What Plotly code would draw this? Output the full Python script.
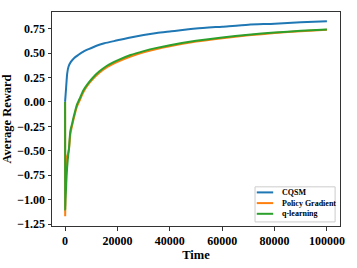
import plotly.graph_objects as go

time_cqsm = [0, 400, 800, 1300, 2200, 3500, 5000, 7000, 9000, 12000, 15000, 20000, 25000, 30000, 35000, 40000, 50000, 60000, 70000, 80000, 90000, 100000]
cqsm = [0.0, 0.15, 0.29, 0.36, 0.41, 0.45, 0.48, 0.515, 0.54, 0.575, 0.60, 0.63, 0.66, 0.685, 0.705, 0.72, 0.75, 0.77, 0.79, 0.80, 0.815, 0.825]

time_pg = [0, 30, 200, 500, 900, 1500, 2000, 2700, 3500, 4500, 5500, 7000, 8500, 10500, 13000, 16000, 20000, 25000, 30000, 35000, 40000, 50000, 60000, 70000, 80000, 90000, 100000]
pg = [0.0, -1.17, -0.85, -0.58, -0.55, -0.48, -0.33, -0.24, -0.15, -0.05, 0.01, 0.10, 0.165, 0.23, 0.295, 0.355, 0.41, 0.465, 0.508, 0.542, 0.57, 0.617, 0.652, 0.681, 0.705, 0.724, 0.738]

time_ql = [0, 50, 150, 300, 600, 1000, 1500, 2000, 2700, 3500, 4500, 5500, 7000, 8500, 10500, 13000, 16000, 20000, 25000, 30000, 35000, 40000, 50000, 60000, 70000, 80000, 90000, 100000]
ql = [0.0, -1.10, -1.0, -0.92, -0.75, -0.60, -0.47, -0.30, -0.22, -0.13, -0.03, 0.03, 0.12, 0.18, 0.245, 0.31, 0.37, 0.425, 0.48, 0.52, 0.553, 0.58, 0.625, 0.66, 0.687, 0.71, 0.727, 0.74]

series_names = ["CQSM", "Policy Gradient", "q-learning"]
series_colors = ["#1f77b4", "#ff7f0e", "#2ca02c"]

y_ticks = [-1.25, -1.0, -0.75, -0.5, -0.25, 0.0, 0.25, 0.5, 0.75]
x_ticks = [0, 20000, 40000, 60000, 80000, 100000]

font_family = "Liberation Serif, Times New Roman, serif"

fig = go.Figure()
for (xs, ys), name, color in zip([(time_cqsm, cqsm), (time_pg, pg), (time_ql, ql)], series_names, series_colors):
    fig.add_trace(go.Scatter(x=xs, y=ys, mode="lines", name=name, showlegend=False,
                             line=dict(color=color, width=2, shape="spline", smoothing=0.6)))

axis_common = dict(showgrid=False, zeroline=False, showline=True, linecolor="#333333",
                   linewidth=1, mirror=True, ticks="outside", ticklen=3.5, tickcolor="#333333",
                   automargin=False,
                   tickfont=dict(family=font_family, size=12, color="black"))

fig.update_xaxes(range=[-5000, 105000], tickvals=x_ticks, ticktext=[f"<b>{v}</b>" for v in x_ticks],
                 title=dict(text="<b>Time</b>", font=dict(family=font_family, size=12.5, color="black"), standoff=2),
                 **axis_common)
fig.update_yaxes(range=[-1.27, 0.92], tickvals=y_ticks,
                 ticktext=[("<b>\u2212%.2f</b>" % abs(v)) if v < 0 else ("<b>%.2f</b>" % v) for v in y_ticks],
                 title=dict(text="<b>Average Reward</b>", font=dict(family=font_family, size=12.5, color="black"), standoff=2),
                 **axis_common)

# compact legend box (matplotlib style)
fig.add_shape(type="rect", xref="paper", yref="paper", x0=0.705, x1=0.983, y0=0.019, y1=0.183,
              line=dict(color="#cccccc", width=1), fillcolor="white", layer="above")
leg_y = [0.157, 0.107, 0.057]
for name, color, ly in zip(series_names, series_colors, leg_y):
    fig.add_shape(type="line", xref="paper", yref="paper", x0=0.711, x1=0.768, y0=ly, y1=ly,
                  line=dict(color=color, width=2), layer="above")
    fig.add_annotation(xref="paper", yref="paper", x=0.79, y=ly, text=f"<b>{name}</b>",
                       showarrow=False, xanchor="left", yanchor="middle",
                       font=dict(family=font_family, size=8, color="black"))

fig.update_layout(
    width=357, height=268,
    margin=dict(l=52, r=17, t=12, b=42),
    plot_bgcolor="white", paper_bgcolor="white",
    font=dict(family=font_family, color="black"),
    showlegend=False,
)

fig.write_html("out.html", config={"displayModeBar": False},
               post_script="document.body.style.margin='0';document.body.style.overflow='hidden';")
